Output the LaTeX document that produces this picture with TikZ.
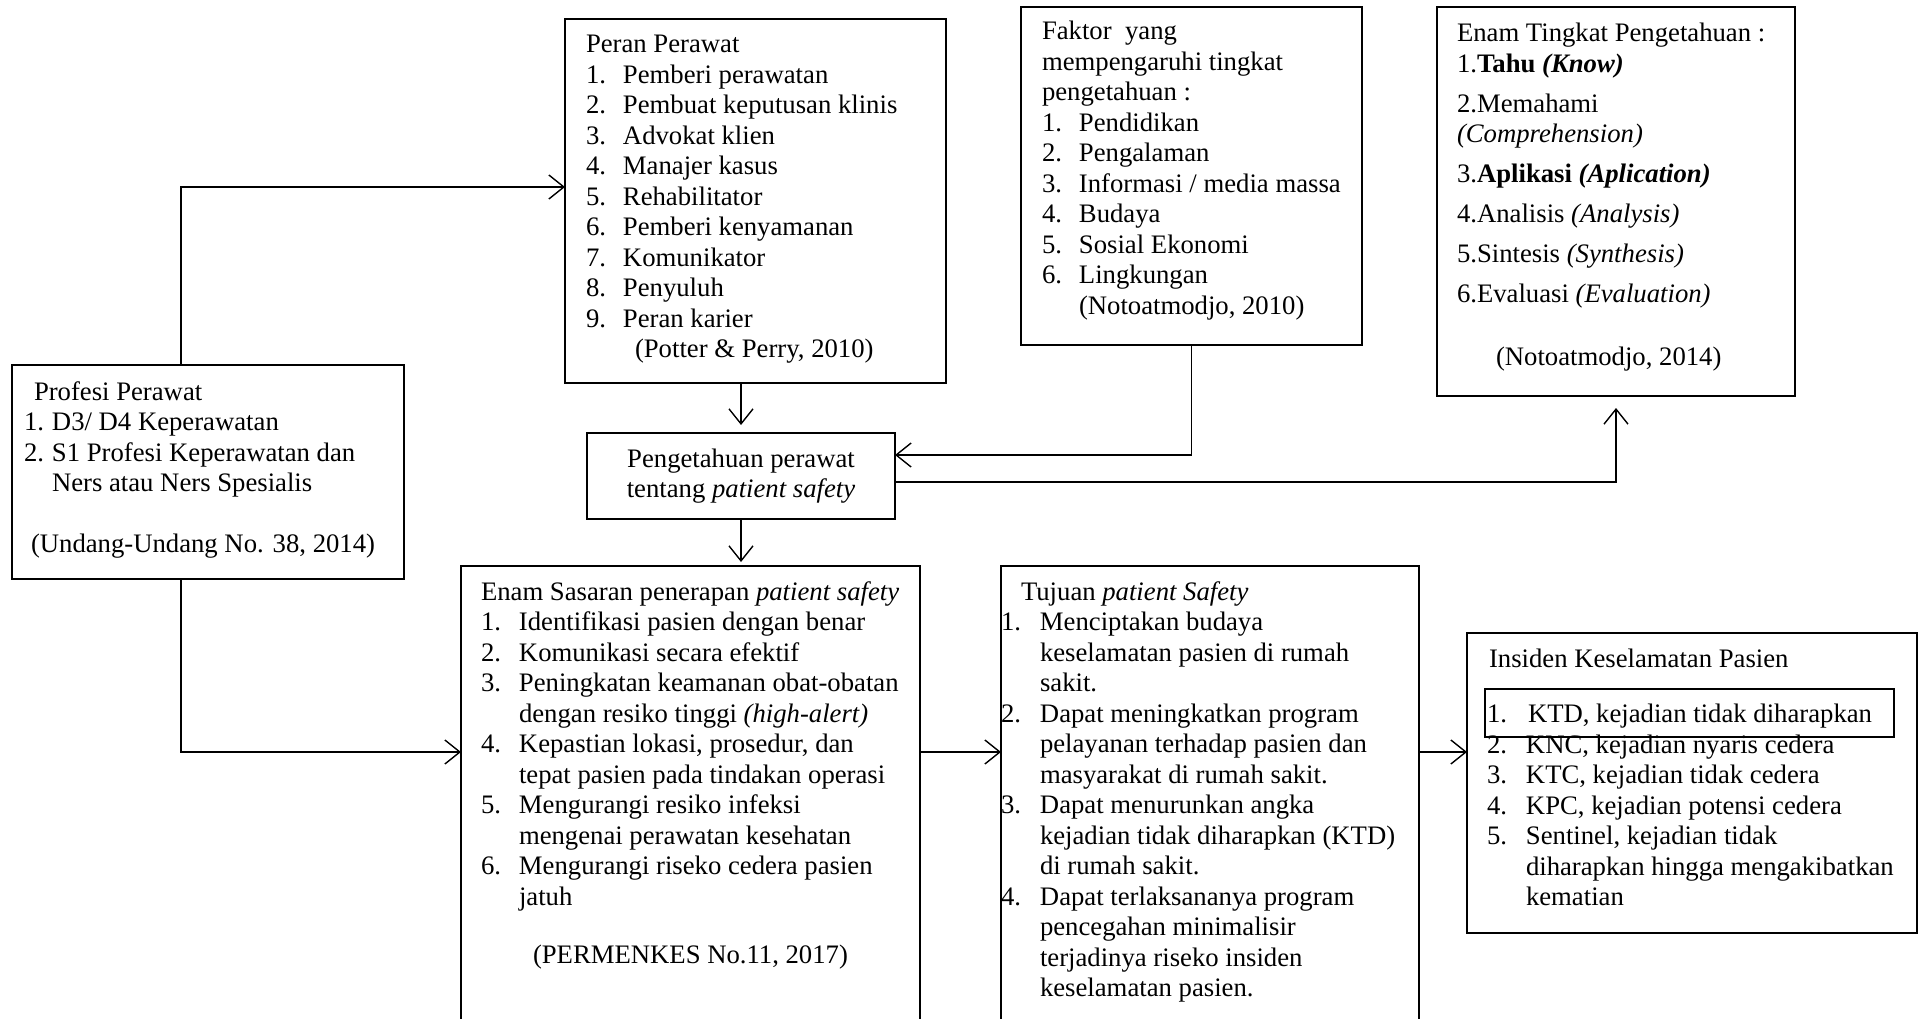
\documentclass[tikz,border=0pt]{standalone}
\usepackage{fontspec}
\setmainfont{Liberation Serif}
\usetikzlibrary{arrows.meta}

\newcommand{\huruf}{\fontsize{26.7}{30.5}\selectfont}
\newcommand{\isi}[4]{\parbox[t][#2pt][t]{#1pt}{\raggedright\rule{0pt}{#3pt}#4}}
\newcommand{\no}[2]{\makebox[#1pt][l]{#2}}
\tikzset{
  kotak/.style={draw, line width=1.2pt, anchor=north west, inner ysep=0pt, outer sep=0pt},
  panah/.style={->, line width=1.4pt}
}

\begin{document}
\begin{tikzpicture}[x=1pt, y=-1pt, >={Straight Barb[length=15pt,width=24pt]}, every node/.style={font=\huruf}]
  \useasboundingbox (0,0) rectangle (1923,1019);
  \clip (0,0) rectangle (1923,1019);
  \coordinate (atas) at (0,187);
  \coordinate (bawah) at (0,752);

  \node[kotak, inner xsep=12pt] (profesi) at (12,365) {\isi{368}{214}{35}{%
    \hspace*{10pt}Profesi Perawat\\
    \no{28}{1.}D3/ D4 Keperawatan\\
    \no{28}{2.}S1 Profesi Keperawatan dan\\
    \hspace*{28pt}Ners atau Ners Spesialis\\[30.5pt]
    \hspace*{7pt}(Undang-Undang No. 38, 2014)}};
  \node[kotak, inner xsep=21pt] (peran) at (565,19) {\isi{339}{364}{34}{%
    Peran Perawat\\
    \no{37}{1.}Pemberi perawatan\\
    \no{37}{2.}Pembuat keputusan klinis\\
    \no{37}{3.}Advokat klien\\
    \no{37}{4.}Manajer kasus\\
    \no{37}{5.}Rehabilitator\\
    \no{37}{6.}Pemberi kenyamanan\\
    \no{37}{7.}Komunikator\\
    \no{37}{8.}Penyuluh\\
    \no{37}{9.}Peran karier\\
    \hspace*{49pt}(Potter \& Perry, 2010)}};
  \node[kotak, inner xsep=21pt] (faktor) at (1021,7) {\isi{299}{338}{33}{%
    Faktor\ \ yang\\
    mempengaruhi tingkat\\
    pengetahuan :\\
    \no{37}{1.}Pendidikan\\
    \no{37}{2.}Pengalaman\\
    \no{37}{3.}Informasi / media massa\\
    \no{37}{4.}Budaya\\
    \no{37}{5.}Sosial Ekonomi\\
    \no{37}{6.}Lingkungan\\
    \hspace*{37pt}(Notoatmodjo, 2010)}};
  \node[kotak, inner xsep=20pt] (tingkat) at (1437,7) {\isi{318}{389}{35}{%
    Enam Tingkat Pengetahuan :\\
    1.\textbf{Tahu \textit{(Know)}}\\[9.5pt]
    2.Memahami\\
    \textit{(Comprehension)}\\[9.5pt]
    3.\textbf{Aplikasi \textit{(Aplication)}}\\[9.5pt]
    4.Analisis \textit{(Analysis)}\\[9.5pt]
    5.Sintesis \textit{(Synthesis)}\\[9.5pt]
    6.Evaluasi \textit{(Evaluation)}\\[32.5pt]
    \hspace*{39pt}(Notoatmodjo, 2014)}};
  \node[kotak, inner xsep=0pt] (tahu) at (587,433) {\isi{308}{86}{34}{%
    \centering Pengetahuan perawat\\
    tentang \textit{patient safety}}};
  \node[kotak, inner xsep=20pt] (sasaran) at (461,566) {\isi{419}{470}{34}{%
    Enam Sasaran penerapan \textit{patient safety}\\
    \no{38}{1.}Identifikasi pasien dengan benar\\
    \no{38}{2.}Komunikasi secara efektif\\
    \no{38}{3.}Peningkatan keamanan obat-obatan\\
    \hspace*{38pt}dengan resiko tinggi \textit{(high-alert)}\\
    \no{38}{4.}Kepastian lokasi, prosedur, dan\\
    \hspace*{38pt}tepat pasien pada tindakan operasi\\
    \no{38}{5.}Mengurangi resiko infeksi\\
    \hspace*{38pt}mengenai perawatan kesehatan\\
    \no{38}{6.}Mengurangi riseko cedera pasien\\
    \hspace*{38pt}jatuh\\[27.5pt]
    \hspace*{52pt}(PERMENKES No.11, 2017)}};
  \node[kotak, inner xsep=0pt] (tujuan) at (1001,566) {\isi{418}{470}{34}{%
    \hspace*{20pt}Tujuan \textit{patient Safety}\\
    \no{39}{1.}Menciptakan budaya\\
    \hspace*{39pt}keselamatan pasien di rumah\\
    \hspace*{39pt}sakit.\\
    \no{39}{2.}Dapat meningkatkan program\\
    \hspace*{39pt}pelayanan terhadap pasien dan\\
    \hspace*{39pt}masyarakat di rumah sakit.\\
    \no{39}{3.}Dapat menurunkan angka\\
    \hspace*{39pt}kejadian tidak diharapkan (KTD)\\
    \hspace*{39pt}di rumah sakit.\\
    \no{39}{4.}Dapat terlaksananya program\\
    \hspace*{39pt}pencegahan minimalisir\\
    \hspace*{39pt}terjadinya riseko insiden\\
    \hspace*{39pt}keselamatan pasien.}};
  \node[kotak, inner xsep=20pt] (insiden) at (1467,633) {\isi{410}{300}{34}{%
    \hspace*{2pt}Insiden Keselamatan Pasien\\[25pt]
    \no{41}{1.}KTD, kejadian tidak diharapkan\\
    \no{39}{2.}KNC, kejadian nyaris cedera\\
    \no{39}{3.}KTC, kejadian tidak cedera\\
    \no{39}{4.}KPC, kejadian potensi cedera\\
    \no{39}{5.}Sentinel, kejadian tidak\\
    \hspace*{39pt}diharapkan hingga mengakibatkan\\
    \hspace*{39pt}kematian}};
  \node[kotak, line width=1.8pt, inner sep=0pt, minimum width=409pt, minimum height=48pt] (ktd) at (1485,689) {};

  \draw[panah] ([xshift=169pt]profesi.north west) |- (peran.west |- atas);
  \draw[panah] ([xshift=169pt]profesi.south west) |- (sasaran.west |- bawah);
  \draw[panah, shorten >=8pt] (tahu.north |- peran.south) -- (tahu.north);
  \draw[panah, shorten >=4pt] (tahu.south) -- (sasaran.north -| tahu.south);
  \draw[panah] (faktor.south) |- ([yshift=-22pt]tahu.north east);
  \draw[panah, shorten >=12pt] ([yshift=-49pt]tahu.north east) -| (tingkat.south);
  \draw[panah] (sasaran.east |- bawah) -- (tujuan.west |- bawah);
  \draw[panah] (tujuan.east |- bawah) -- (insiden.west |- bawah);
\end{tikzpicture}
\end{document}
